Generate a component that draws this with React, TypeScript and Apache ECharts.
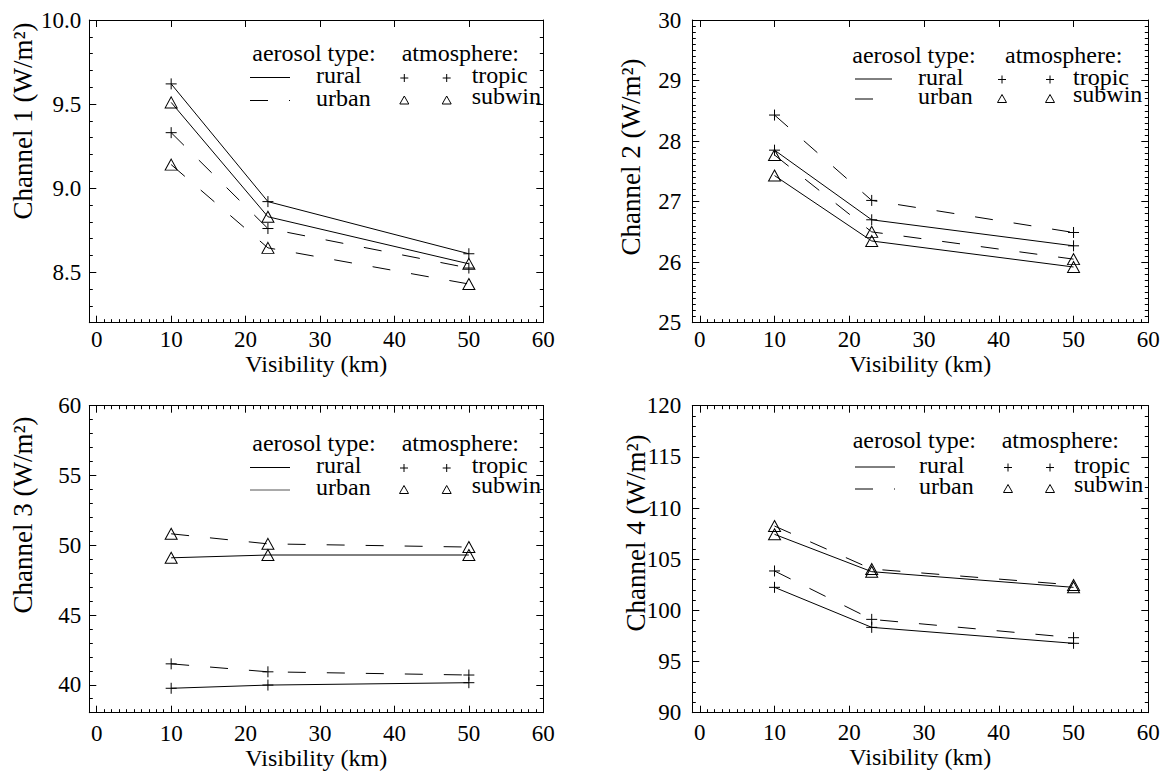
import React, { useEffect, useRef } from 'react';
import * as echarts from 'echarts';

// ---------- data ----------
const visibility = [10, 23, 50];

const ch1RuralTropic = [9.62, 8.92, 8.61];
const ch1RuralSubwin = [9.51, 8.83, 8.55];
const ch1UrbanTropic = [9.33, 8.76, 8.525];
const ch1UrbanSubwin = [9.14, 8.645, 8.43];

const ch2RuralTropic = [27.85, 26.7, 26.27];
const ch2RuralSubwin = [27.43, 26.35, 25.92];
const ch2UrbanTropic = [28.43, 27.02, 26.49];
const ch2UrbanSubwin = [27.77, 26.5, 26.05];

const ch3RuralTropic = [39.75, 39.98, 40.15];
const ch3RuralSubwin = [49.1, 49.3, 49.3];
const ch3UrbanTropic = [41.5, 40.93, 40.7];
const ch3UrbanSubwin = [50.82, 50.1, 49.87];

const ch4RuralTropic = [102.25, 98.34, 96.78];
const ch4RuralSubwin = [107.43, 103.78, 102.25];
const ch4UrbanTropic = [103.85, 99.12, 97.33];
const ch4UrbanSubwin = [108.24, 104.04, 102.48];

const xTickLabels = [0, 10, 20, 30, 40, 50, 60];
const ch1YTicks = [8.5, 9.0, 9.5, 10.0];
const ch2YTicks = [25, 26, 27, 28, 29, 30];
const ch3YTicks = [40, 45, 50, 55, 60];
const ch4YTicks = [90, 95, 100, 105, 110, 115, 120];

const xTitle = 'Visibility (km)';
const legendHead1 = 'aerosol type:';
const legendHead2 = 'atmosphere:';
const aerosolTypes = ['rural', 'urban'];
const atmospheres = ['tropic', 'subwin'];

// ---------- styling ----------
const FONT = 'Liberation Serif';
const PLUS = 'path://M0,5L10,5M5,0L5,10';
const DASH = [18, 21];
const BLACK = '#000';

function ticksBetween(min: number, max: number, step: number) {
  const out: number[] = [];
  const n = Math.round((max - min) / step);
  for (let i = 0; i <= n; i++) out.push(+(min + i * step).toFixed(6));
  return out;
}

const panels = [
  {
    grid: { left: 89.3, top: 20, width: 454, height: 302.7 },
    yMin: 8.2, yMax: 10, yMajor: ch1YTicks, yMinorStep: 0.1, decimals: 1,
    topMinor: false, yLabelMargin: 8, xLabelMargin: 5, xNameGap: 27,
    series: { rt: ch1RuralTropic, rs: ch1RuralSubwin, ut: ch1UrbanTropic, us: ch1UrbanSubwin },
    title: { n: '1', x: 23, y: 121 },
    legend: { aeroX: 252.3, atmX: 401.7, headY: 53, r2Y: 75, r3Y: 97.5, lx1: 250, lx2: 290, labelX: 316, m1: 404.3, m2: 446.7, atmLabelX: 471.7, urbanSolid: false },
  },
  {
    grid: { left: 692.3, top: 20, width: 456, height: 302.7 },
    yMin: 25, yMax: 30, yMajor: ch2YTicks, yMinorStep: 0.1, decimals: 0,
    topMinor: false, yLabelMargin: 11, xLabelMargin: 5, xNameGap: 27,
    series: { rt: ch2RuralTropic, rs: ch2RuralSubwin, ut: ch2UrbanTropic, us: ch2UrbanSubwin },
    title: { n: '2', x: 631, y: 157 },
    legend: { aeroX: 852.3, atmX: 1005, headY: 55, r2Y: 76.5, r3Y: 96, lx1: 855, lx2: 892, labelX: 918, m1: 1002, m2: 1050, atmLabelX: 1073, urbanSolid: false },
  },
  {
    grid: { left: 89.3, top: 405.7, width: 454, height: 307 },
    yMin: 38, yMax: 60, yMajor: ch3YTicks, yMinorStep: 1, decimals: 0,
    topMinor: true, yLabelMargin: 8, xLabelMargin: 9, xNameGap: 31,
    series: { rt: ch3RuralTropic, rs: ch3RuralSubwin, ut: ch3UrbanTropic, us: ch3UrbanSubwin },
    title: { n: '3', x: 23, y: 515 },
    legend: { aeroX: 252.3, atmX: 401.7, headY: 443.3, r2Y: 465, r3Y: 487, lx1: 250, lx2: 290, labelX: 316, m1: 404, m2: 446.7, atmLabelX: 471.7, urbanSolid: true },
  },
  {
    grid: { left: 692.3, top: 405.7, width: 456, height: 307 },
    yMin: 90, yMax: 120, yMajor: ch4YTicks, yMinorStep: 1, decimals: 0,
    topMinor: true, yLabelMargin: 11, xLabelMargin: 8, xNameGap: 27,
    series: { rt: ch4RuralTropic, rs: ch4RuralSubwin, ut: ch4UrbanTropic, us: ch4UrbanSubwin },
    title: { n: '4', x: 636, y: 533 },
    legend: { aeroX: 852.7, atmX: 1001.7, headY: 440, r2Y: 464.5, r3Y: 486, lx1: 855, lx2: 895, labelX: 919, m1: 1008, m2: 1050, atmLabelX: 1074, urbanSolid: false },
  },
];

type Panel = typeof panels[number];

function buildPanelOption(p: Panel) {
  const xAxes: any[] = [];
  const yAxes: any[] = [];
  const series: any[] = [];
  const graphics: any[] = [];
  const xMinor = ticksBetween(-1, 60, 1);
  const lineSt = { color: BLACK, width: 1 };

  const common = { type: 'value', gridIndex: 0, min: -1, max: 60, splitLine: { show: false } };
  xAxes.push({
    ...common, position: 'bottom',
    axisLine: { show: true, onZero: false, lineStyle: lineSt },
    axisTick: { show: true, inside: true, length: 7, customValues: xTickLabels, lineStyle: lineSt },
    axisLabel: { show: true, customValues: xTickLabels, margin: p.xLabelMargin, color: BLACK, fontSize: 23, fontFamily: FONT },
    name: xTitle, nameLocation: 'middle', nameGap: p.xNameGap,
    nameTextStyle: { color: BLACK, fontSize: 24, fontFamily: FONT },
  });
  xAxes.push({
    ...common, position: 'bottom',
    axisLine: { show: false, onZero: false },
    axisTick: { show: true, inside: true, length: 3.5, customValues: xMinor, lineStyle: lineSt },
    axisLabel: { show: false },
  });
  xAxes.push({
    ...common, position: 'top',
    axisLine: { show: true, onZero: false, lineStyle: lineSt },
    axisTick: { show: true, inside: true, length: 7, customValues: xTickLabels, lineStyle: lineSt },
    axisLabel: { show: false },
  });
  if (p.topMinor) {
    xAxes.push({
      ...common, position: 'top',
      axisLine: { show: false, onZero: false },
      axisTick: { show: true, inside: true, length: 3.5, customValues: xMinor, lineStyle: lineSt },
      axisLabel: { show: false },
    });
  }

  const yMinor = ticksBetween(p.yMin, p.yMax, p.yMinorStep);
  const ycommon = { type: 'value', gridIndex: 0, min: p.yMin, max: p.yMax, splitLine: { show: false } };
  yAxes.push({
    ...ycommon, position: 'left',
    axisLine: { show: true, onZero: false, lineStyle: lineSt },
    axisTick: { show: true, inside: true, length: 7, customValues: p.yMajor, lineStyle: lineSt },
    axisLabel: {
      show: true, customValues: p.yMajor, margin: p.yLabelMargin, color: BLACK, fontSize: 23, fontFamily: FONT,
      formatter: (v: number) => v.toFixed(p.decimals),
    },
  });
  yAxes.push({
    ...ycommon, position: 'left',
    axisLine: { show: false, onZero: false },
    axisTick: { show: true, inside: true, length: 3.5, customValues: yMinor, lineStyle: lineSt },
    axisLabel: { show: false },
  });
  yAxes.push({
    ...ycommon, position: 'right',
    axisLine: { show: true, onZero: false, lineStyle: lineSt },
    axisTick: { show: true, inside: true, length: 7, customValues: p.yMajor, lineStyle: lineSt },
    axisLabel: { show: false },
  });
  yAxes.push({
    ...ycommon, position: 'right',
    axisLine: { show: false, onZero: false },
    axisTick: { show: true, inside: true, length: 3.5, customValues: yMinor, lineStyle: lineSt },
    axisLabel: { show: false },
  });

  const defs = [
    { name: 'rural tropic', vals: p.series.rt, dashed: false, sym: PLUS },
    { name: 'rural subwin', vals: p.series.rs, dashed: false, sym: 'triangle' },
    { name: 'urban tropic', vals: p.series.ut, dashed: true, sym: PLUS },
    { name: 'urban subwin', vals: p.series.us, dashed: true, sym: 'triangle' },
  ];
  defs.forEach((d) => {
    series.push({
      type: 'line', name: d.name, xAxisIndex: 0, yAxisIndex: 0,
      data: visibility.map((x, i) => [x, d.vals[i]]),
      symbol: d.sym, symbolSize: d.sym === PLUS ? 11 : [12, 11], showSymbol: true,
      itemStyle: { color: 'none', borderColor: BLACK, borderWidth: 1 },
      lineStyle: { color: BLACK, width: 1, type: d.dashed ? DASH : 'solid' },
      silent: true,
    });
  });

  // y title (plain text with superscript two)
  graphics.push({
    type: 'text', x: p.title.x, y: p.title.y, rotation: Math.PI / 2, silent: true,
    style: {
      text: `Channel ${p.title.n} (W/m\u00B2)`,
      fontSize: 27, fontFamily: FONT, fill: BLACK,
      align: 'center', verticalAlign: 'middle',
    },
  });

  // legend
  const L = p.legend;
  const txt = (text: string, x: number, y: number) => ({
    type: 'text', x, y, silent: true,
    style: { text, fontSize: 24, fontFamily: FONT, fill: BLACK, align: 'left', verticalAlign: 'middle', lineHeight: 19 },
  });
  graphics.push(txt(legendHead1, L.aeroX, L.headY));
  graphics.push(txt(legendHead2, L.atmX, L.headY));
  graphics.push(txt(aerosolTypes[0], L.labelX, L.r2Y));
  graphics.push(txt(aerosolTypes[1], L.labelX, L.r3Y));
  graphics.push(txt(atmospheres[0], L.atmLabelX, L.r2Y));
  graphics.push(txt(atmospheres[1], L.atmLabelX, L.r3Y - 2));
  graphics.push({
    type: 'line', silent: true,
    shape: { x1: L.lx1, y1: L.r2Y + 2.5, x2: L.lx2, y2: L.r2Y + 2.5 },
    style: { stroke: BLACK, lineWidth: 1 },
  });
  graphics.push({
    type: 'line', silent: true,
    shape: { x1: L.lx1, y1: L.r3Y + 3, x2: L.lx2, y2: L.r3Y + 3 },
    style: L.urbanSolid ? { stroke: '#555', lineWidth: 1 } : { stroke: BLACK, lineWidth: 1, lineDash: DASH },
  });
  [L.m1, L.m2].forEach((mx) => {
    const my = L.r2Y + 3;
    graphics.push({ type: 'line', silent: true, shape: { x1: mx - 4, y1: my, x2: mx + 4, y2: my }, style: { stroke: BLACK, lineWidth: 1 } });
    graphics.push({ type: 'line', silent: true, shape: { x1: mx, y1: my - 4, x2: mx, y2: my + 4 }, style: { stroke: BLACK, lineWidth: 1 } });
    const ty = L.r3Y + 3;
    graphics.push({
      type: 'polygon', silent: true,
      shape: { points: [[mx, ty - 4.5], [mx + 4.5, ty + 3.5], [mx - 4.5, ty + 3.5]] },
      style: { fill: 'none', stroke: BLACK, lineWidth: 1 },
    });
  });

  return {
    animation: false,
    textStyle: { fontFamily: FONT, color: BLACK },
    grid: [{ ...p.grid }],
    xAxis: xAxes,
    yAxis: yAxes,
    series,
    graphic: graphics,
  };
}

function PanelChart({ p }: { p: Panel }) {
  const ref = useRef<HTMLDivElement>(null);
  useEffect(() => {
    if (!ref.current) return;
    const chart = echarts.init(ref.current, undefined, { renderer: 'svg' });
    chart.setOption(buildPanelOption(p) as any);
    return () => chart.dispose();
  }, [p]);
  return (
    <div
      ref={ref}
      style={{ position: 'absolute', left: 0, top: 0, width: 1169, height: 772 }}
    />
  );
}

const FONT_CSS = '.serif-chart svg text, .serif-chart svg tspan { font-family: "Liberation Serif", serif !important; }';

export default function App() {
  return (
    <div className="serif-chart" style={{ position: 'absolute', left: 0, top: 0, width: 1169, height: 772, background: '#fff' }}>
      <style>{FONT_CSS}</style>
      {panels.map((p, i) => (
        <PanelChart key={i} p={p} />
      ))}
    </div>
  );
}
